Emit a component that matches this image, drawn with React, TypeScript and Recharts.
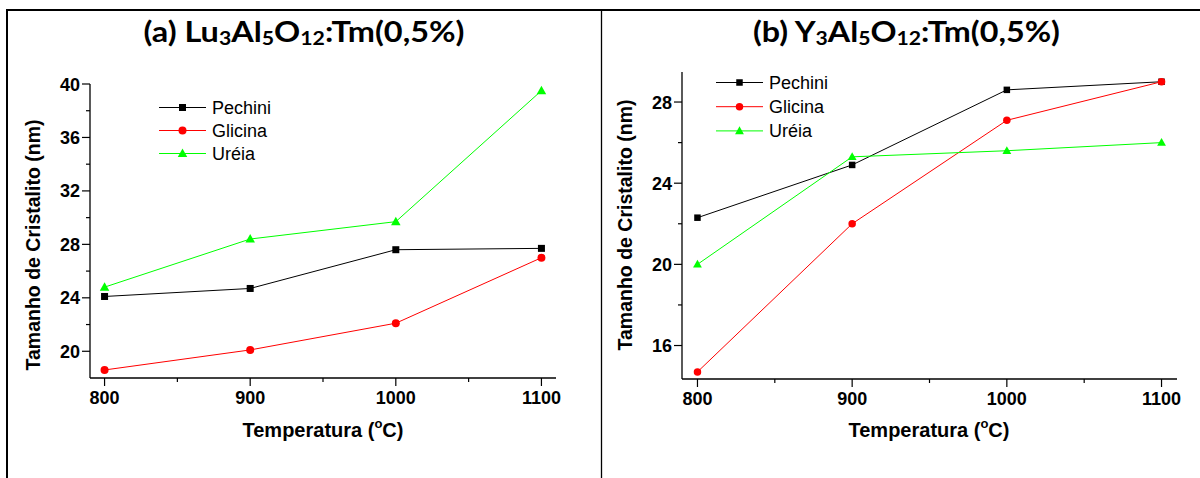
import { LineChart, Line, XAxis, YAxis, Legend } from "recharts";

// temperatures (°C)
const temps = [800, 900, 1000, 1100];

// (a) Lu3Al5O12:Tm(0,5%)
const luPechini = [24.1, 24.7, 27.6, 27.7];
const luGlicina = [18.6, 20.1, 22.1, 27.0];
const luUreia = [24.8, 28.4, 29.7, 39.5];

// (b) Y3Al5O12:Tm(0,5%)
const yPechini = [22.3, 24.9, 28.6, 29.0];
const yGlicina = [14.7, 22.0, 27.1, 29.0];
const yUreia = [20.0, 25.3, 25.6, 26.0];

const xMajor = [800, 900, 1000, 1100];
const xMinor = [850, 950, 1050];
const luYMajor = [20, 24, 28, 32, 36, 40];
const luYMinor = [22, 26, 30, 34, 38];
const yYMajor = [16, 20, 24, 28];
const yYMinor = [18, 22, 26];

const names = ["Pechini", "Glicina", "Uréia"];
const keys = ["pechini", "glicina", "ureia"];
const colors = ["#000000", "#ff0000", "#00ff00"];
const shapes = ["square", "circle", "triangle"];

const FONT = "'Liberation Sans', Arial, sans-serif";

const toRows = (a: number[], b: number[], c: number[]) =>
  temps.map((t, i) => ({ t, pechini: a[i], glicina: b[i], ureia: c[i] }));

const luData = toRows(luPechini, luGlicina, luUreia);
const yData = toRows(yPechini, yGlicina, yUreia);

function Marker({ cx, cy, shape, color, size }: any) {
  if (cx == null || cy == null) return null;
  if (shape === "square") {
    return <rect x={cx - size / 2} y={cy - size / 2} width={size} height={size} fill={color} />;
  }
  if (shape === "circle") {
    return <circle cx={cx} cy={cy} r={size / 2 + 0.5} fill={color} />;
  }
  const hw = size * 0.68;
  const pts = `${cx},${cy - size * 0.7} ${cx - hw},${cy + size * 0.5} ${cx + hw},${cy + size * 0.5}`;
  return <polygon points={pts} fill={color} />;
}

const dotFor = (i: number, size: number) => (p: any) => (
  <Marker key={`d-${i}-${p.index}`} cx={p.cx} cy={p.cy} shape={shapes[i]} color={colors[i]} size={size} />
);

const yTick = (majors: number[]) => (props: any) => {
  const { x, y, payload } = props;
  const major = majors.includes(payload.value);
  return (
    <g>
      <line x1={x} x2={x - (major ? 8 : 4)} y1={y} y2={y} stroke="#000" strokeWidth={1.2} />
      {major && (
        <text x={x - 10} y={y} dy={6.5} textAnchor="end" fontSize={18} fontWeight="bold" fontFamily={FONT} fill="#000">
          {payload.value}
        </text>
      )}
    </g>
  );
};

const xTick = (props: any) => {
  const { x, y, payload } = props;
  const major = xMajor.includes(payload.value);
  return (
    <g>
      <line x1={x} x2={x} y1={y} y2={y + (major ? 8 : 4)} stroke="#000" strokeWidth={1.2} />
      {major && (
        <text x={x} y={y + 26} textAnchor="middle" fontSize={18} fontWeight="bold" fontFamily={FONT} fill="#000">
          {payload.value}
        </text>
      )}
    </g>
  );
};

const legendContent = (gap: number, size: number) => (props: any) => {
  const payload = [...(props.payload || [])].sort(
    (a: any, b: any) => keys.indexOf(a.dataKey) - keys.indexOf(b.dataKey)
  );
  return (
    <svg width={130} height={80} style={{ overflow: "visible" }}>
      {payload.map((e: any, i: number) => {
        const idx = Math.max(0, keys.indexOf(e.dataKey));
        const cy = 12.5 + i * gap;
        return (
          <g key={e.value}>
            <line x1={9} x2={56} y1={cy} y2={cy} stroke={e.color} strokeWidth={1} />
            <Marker cx={32.5} cy={cy} shape={shapes[idx]} color={colors[idx]} size={size} />
            <text x={62} y={cy} dy={6} fontSize={18} fontFamily={FONT} fill="#000">
              {e.value}
            </text>
          </g>
        );
      })}
    </svg>
  );
};

function Panel({ data, left, margin, yDomain, yMajor, yMinor, legendPos, legendGap, markSize }: any) {
  return (
    <div style={{ position: "absolute", left, top: 0 }}>
      <LineChart width={600} height={478} data={data} margin={margin}>
        <XAxis
          dataKey="t"
          type="number"
          domain={[790, 1110]}
          ticks={[...xMajor, ...xMinor].sort((a, b) => a - b)}
          interval={0}
          tickSize={0}
          tickMargin={0}
          tickLine={false}
          height={40}
          axisLine={{ stroke: "#000", strokeWidth: 1.3 }}
          tick={xTick}
        />
        <YAxis
          type="number"
          domain={yDomain}
          allowDataOverflow
          ticks={[...yMajor, ...yMinor].sort((a, b) => a - b)}
          interval={0}
          tickSize={0}
          tickMargin={0}
          tickLine={false}
          width={60}
          axisLine={{ stroke: "#000", strokeWidth: 1.3 }}
          tick={yTick(yMajor)}
        />
        <Legend
          layout="vertical"
          align="center"
          verticalAlign="middle"
          wrapperStyle={{ left: legendPos[0], top: legendPos[1], width: 130, height: 80 }}
          content={legendContent(legendGap, markSize)}
        />
        {keys.map((k, i) => (
          <Line
            key={k}
            dataKey={k}
            name={names[i]}
            type="linear"
            stroke={colors[i]}
            strokeWidth={1}
            dot={dotFor(i, markSize)}
            activeDot={false}
            isAnimationActive={false}
          />
        ))}
      </LineChart>
    </div>
  );
}

function Title({ x, y, width, lead }: any) {
  return (
    <text x={x} y={y} fontSize={29} fontWeight="bold" fontFamily="Lato, 'DejaVu Sans', sans-serif" fill="#000"
      textLength={width} lengthAdjust="spacingAndGlyphs">
      {lead}
      <tspan fontSize={19} dy={3}>3</tspan>
      <tspan dy={-3}>Al</tspan>
      <tspan fontSize={19} dy={3}>5</tspan>
      <tspan dy={-3}>O</tspan>
      <tspan fontSize={19} dy={3}>12</tspan>
      <tspan dy={-3}>:Tm(0,5%)</tspan>
    </text>
  );
}

function XTitle({ cx }: { cx: number }) {
  return (
    <text x={cx} y={437} textAnchor="middle" fontSize={20} fontWeight="bold" fontFamily={FONT} fill="#000">
      Temperatura (<tspan fontSize={13} dy={-9}>o</tspan><tspan dy={9}>C)</tspan>
    </text>
  );
}

function YTitle({ x, cy }: { x: number; cy: number }) {
  return (
    <text transform={`translate(${x},${cy}) rotate(-90)`} textAnchor="middle" fontSize={19.5} fontWeight="bold"
      fontFamily={FONT} fill="#000">
      Tamanho de Cristalito (nm)
    </text>
  );
}

export default function App() {
  return (
    <div style={{ position: "absolute", left: 0, top: 0, width: 1200, height: 478, background: "#fff", overflow: "hidden" }}>
      <Panel
        data={luData}
        left={0}
        margin={{ top: 84, right: 44, bottom: 60, left: 30 }}
        yDomain={[18, 40]}
        yMajor={luYMajor}
        yMinor={luYMinor}
        legendPos={[150, 95]}
        legendGap={23}
        markSize={7}
      />
      <Panel
        data={yData}
        left={600}
        margin={{ top: 72, right: 23, bottom: 59, left: 22 }}
        yDomain={[14.35, 29.48]}
        yMajor={yYMajor}
        yMinor={yYMinor}
        legendPos={[107, 70]}
        legendGap={24.2}
        markSize={6.5}
      />
      <svg width={1200} height={478} style={{ position: "absolute", left: 0, top: 0, pointerEvents: "none" }}>
        <line x1={6} x2={1200} y1={10} y2={10} stroke="#000" strokeWidth={2} />
        <line x1={7} x2={7} y1={9} y2={478} stroke="#000" strokeWidth={2} />
        <line x1={601.5} x2={601.5} y1={10} y2={478} stroke="#000" strokeWidth={1.3} />
        <Title x={143.5} y={42} width={321} lead="(a) Lu" />
        <Title x={753} y={42} width={307} lead="(b) Y" />
        <XTitle cx={323} />
        <XTitle cx={929} />
        <YTitle x={40} cy={245} />
        <YTitle x={632} cy={225} />
      </svg>
    </div>
  );
}
